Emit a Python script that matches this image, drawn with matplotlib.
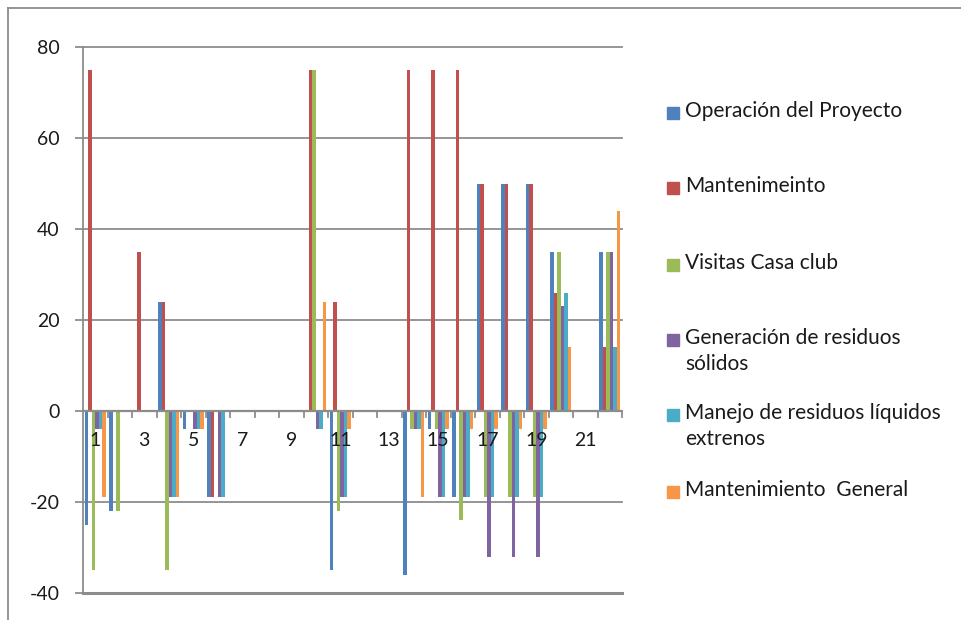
import numpy as np
import matplotlib
matplotlib.use('Agg')
import matplotlib.pyplot as plt
from matplotlib.patches import Rectangle

plt.rcParams['font.family'] = ['Lato', 'DejaVu Sans']
plt.rcParams['axes.unicode_minus'] = False

#######################################################################################################################
# Data

categories = [str(i) for i in range(1, 23)]
series_names = ['Operación del Proyecto', 'Mantenimeinto', 'Visitas Casa club',
                'Generación de residuos\nsólidos', 'Manejo de residuos líquidos\nextrenos',
                'Mantenimiento  General']
colors = ['#4F81BD', '#C0504D', '#9BBB59', '#8064A2', '#4BACC6', '#F79646']

operacion = [-25, -22, 0, 24, -4, -19, 0, 0, 0, 0, -35, 0, 0, -36, -4, -19, 50, 50, 50, 35, 0, 35]
mantenimeinto = [75, 0, 35, 24, 0, -19, 0, 0, 0, 75, 24, 0, 0, 75, 75, 75, 50, 50, 50, 26, 0, 14]
visitas = [-35, -22, 0, -35, 0, 0, 0, 0, 0, 75, -22, 0, 0, -4, -4, -24, -19, -19, -19, 35, 0, 35]
solidos = [-4, 0, 0, -19, -4, -19, 0, 0, 0, -4, -19, 0, 0, -4, -19, -19, -32, -32, -32, 23, 0, 35]
liquidos = [-4, 0, 0, -19, -4, -19, 0, 0, 0, -4, -19, 0, 0, -4, -19, -19, -19, -19, -19, 26, 0, 14]
general = [-19, 0, 0, -19, -4, 0, 0, 0, 0, 24, -4, 0, 0, -19, -4, -4, -4, -4, -4, 14, 0, 44]

all_series = [operacion, mantenimeinto, visitas, solidos, liquidos, general]

#######################################################################################################################
# Plot

W, H = 961, 620
fig = plt.figure(figsize=(W / 100, H / 100), dpi=100)
ax = fig.add_axes([83 / W, 1 - 593 / H, (622 - 83) / W, (593 - 47) / H])

x = np.arange(len(categories))
bw = 0.145
for i, (vals, c) in enumerate(zip(all_series, colors)):
    ax.bar(x + (i - 2.5) * bw, vals, width=bw, color=c, edgecolor='none', zorder=3)

ax.set_xlim(-0.5, len(categories) - 0.5)
ax.set_ylim(-40, 80)
ax.set_yticks(np.arange(-40, 81, 20))

grid_c = '#8c8c8c'
for yv in np.arange(-40, 81, 20):
    ax.axhline(yv, color=grid_c, lw=1.3 if yv != -40 else 2.2, zorder=1, clip_on=False)

for s in ['top', 'right', 'bottom']:
    ax.spines[s].set_visible(False)
ax.spines['left'].set_color(grid_c)
ax.spines['left'].set_linewidth(1.3)

# category axis crossing at zero
ax.axhline(0, color=grid_c, lw=1.6, zorder=4)
ax.set_xticks([])
for xb in np.arange(0.5, len(categories), 1.0):
    ax.plot([xb, xb], [0, -1.3], color=grid_c, lw=1.3, zorder=4, clip_on=False)
for xi in x[::2]:
    ax.text(xi, -6.5, categories[xi], ha='center', va='center', fontsize=14, color='#1a1a1a', zorder=5)

ax.tick_params(axis='y', direction='out', length=6, width=1.3, color=grid_c, pad=11,
               labelsize=14, labelcolor='#1a1a1a')

# legend
leg_y = [113, 188, 265, 340, 415, 492]
for name, c, yy in zip(series_names, colors, leg_y):
    fig.patches.append(Rectangle((667 / W, 1 - (yy + 6) / H), 12 / W, 12 / H,
                                 transform=fig.transFigure, color=c))
    fig.text(685 / W, 1 - (yy - 12) / H, name, ha='left', va='top', fontsize=15,
             color='#1a1a1a', linespacing=1.4)

# chart border
fig.add_artist(plt.Line2D([8 / W, 8 / W], [0, 1 - 8 / H], color='#8c8c8c', lw=1.3))
fig.add_artist(plt.Line2D([8 / W, 1], [1 - 8 / H, 1 - 8 / H], color='#8c8c8c', lw=1.3))

plt.savefig('out.png', dpi=100)
